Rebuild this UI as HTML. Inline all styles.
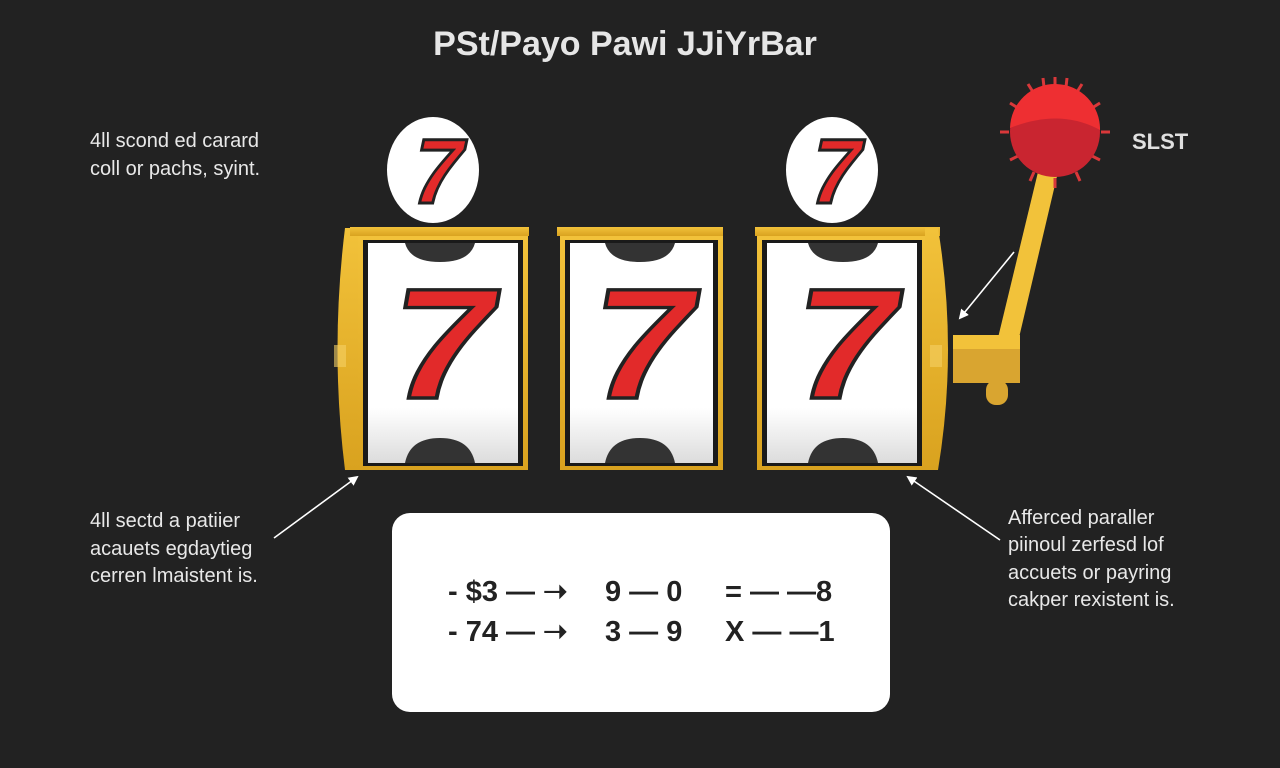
<!DOCTYPE html>
<html><head><meta charset="utf-8"><style>
html,body{margin:0;padding:0;background:#222222;}
svg{display:block}
text{font-family:"Liberation Sans",sans-serif;}
</style></head><body>
<svg width="1280" height="768" viewBox="0 0 1280 768" xmlns="http://www.w3.org/2000/svg">
<defs>
<linearGradient id="g" x1="0" y1="0" x2="0" y2="1"><stop offset="0" stop-color="#f2c23a"/><stop offset="1" stop-color="#d9a21f"/></linearGradient>
<linearGradient id="w" x1="0" y1="0" x2="0" y2="1"><stop offset="0" stop-color="#ffffff"/><stop offset="0.75" stop-color="#ffffff"/><stop offset="1" stop-color="#dcdcdc"/></linearGradient>
<marker id="ah" markerWidth="10" markerHeight="10" refX="8" refY="5" orient="auto" markerUnits="userSpaceOnUse"><path d="M0,0 L10,5 L0,10 z" fill="#fff"/></marker>
</defs>
<rect width="1280" height="768" fill="#222222"/>
<text x="625" y="55" text-anchor="middle" font-size="34" font-weight="bold" fill="#e6e6e6">PSt/Payo Pawi JJiYrBar</text>

<g font-size="20" fill="#e8e8e8">
<text x="90" y="147">4ll scond ed carard</text>
<text x="90" y="175">coll or pachs, syint.</text>
<text x="90" y="527">4ll sectd a patiier</text>
<text x="90" y="555">acauets egdaytieg</text>
<text x="90" y="582">cerren lmaistent is.</text>
<text x="1008" y="524">Afferced paraller</text>
<text x="1008" y="551">piinoul zerfesd lof</text>
<text x="1008" y="579">accuets or payring</text>
<text x="1008" y="606">cakper rexistent is.</text>
</g>
<text x="1132" y="149" font-size="22" font-weight="bold" fill="#e0e0e0">SLST</text>

<ellipse cx="433" cy="170" rx="46" ry="53" fill="#fff"/>
<ellipse cx="832" cy="170" rx="46" ry="53" fill="#fff"/>
<g font-weight="bold" font-size="92" fill="#e22a2a" stroke="#222" stroke-width="3" text-anchor="middle">
<text transform="translate(432,203) skewX(-12)">7</text>
<text transform="translate(830,203) skewX(-12)">7</text>
</g>

<path d="M345,228 L360,228 L358,470 L345,470 Q330,350 345,228 z" fill="url(#g)"/>
<rect x="350" y="227" width="179" height="9" fill="url(#g)"/>
<rect x="358" y="236" width="170" height="234" fill="url(#g)"/>
<rect x="363" y="240" width="160" height="226" fill="#1a1a1a"/>
<rect x="368" y="243" width="150" height="220" fill="url(#w)"/>
<rect x="557" y="227" width="166" height="9" fill="url(#g)"/>
<rect x="560" y="236" width="163" height="234" fill="url(#g)"/>
<rect x="565" y="240" width="153" height="226" fill="#1a1a1a"/>
<rect x="570" y="243" width="143" height="220" fill="url(#w)"/>
<rect x="755" y="227" width="185" height="9" fill="url(#g)"/>
<rect x="757" y="236" width="170" height="234" fill="url(#g)"/>
<rect x="762" y="240" width="160" height="226" fill="#1a1a1a"/>
<rect x="767" y="243" width="150" height="220" fill="url(#w)"/>
<path d="M925,228 L938,228 Q958,350 938,470 L925,470 z" fill="url(#g)"/>
<rect x="930" y="345" width="12" height="22" fill="#f5d064" opacity="0.6"/>
<rect x="334" y="345" width="12" height="22" fill="#f5d064" opacity="0.6"/>

<g fill="#333">
<path d="M405,243 L475,243 Q470,262 440,262 Q410,262 405,243 z"/>
<path d="M405,463 L475,463 Q470,438 440,438 Q410,438 405,463 z"/>
<path d="M605,243 L675,243 Q670,262 640,262 Q610,262 605,243 z"/>
<path d="M605,463 L675,463 Q670,438 640,438 Q610,438 605,463 z"/>
<path d="M808,243 L878,243 Q873,262 843,262 Q813,262 808,243 z"/>
<path d="M808,463 L878,463 Q873,438 843,438 Q813,438 808,463 z"/>
</g>
<g font-weight="bold" font-size="185" fill="#e22a2a" stroke="#222" stroke-width="4" text-anchor="middle">
<text transform="translate(435,398) skewX(-10) scale(1.05,0.85)">7</text>
<text transform="translate(635,398) skewX(-10) scale(1.05,0.85)">7</text>
<text transform="translate(838,398) skewX(-10) scale(1.05,0.85)">7</text>
</g>

<polygon points="1038,172 1058,172 1018,342 997,342" fill="#f2c23a"/>
<rect x="953" y="335" width="67" height="14" fill="#f2c23a"/>
<rect x="953" y="349" width="67" height="34" fill="#d9a530"/>
<rect x="986" y="380" width="22" height="25" rx="10" fill="#d9a530"/>
<g stroke="#d9383a" stroke-width="3">
<line x1="1055" y1="77" x2="1055" y2="86"/><line x1="1055" y1="178" x2="1055" y2="188"/>
<line x1="1000" y1="132" x2="1009" y2="132"/><line x1="1101" y1="132" x2="1110" y2="132"/>
<line x1="1028" y1="84" x2="1033" y2="92"/><line x1="1082" y1="84" x2="1077" y2="92"/>
<line x1="1010" y1="103" x2="1018" y2="108"/><line x1="1100" y1="103" x2="1092" y2="108"/>
<line x1="1010" y1="160" x2="1018" y2="156"/><line x1="1100" y1="160" x2="1092" y2="156"/>
<line x1="1030" y1="181" x2="1034" y2="172"/><line x1="1080" y1="181" x2="1076" y2="172"/>
<line x1="1043" y1="78" x2="1044" y2="87"/><line x1="1067" y1="78" x2="1066" y2="87"/>
</g>
<circle cx="1055" cy="132" r="45" fill="#c92530"/>
<path d="M1010,128 A45,45 0 0 1 1100,130 Q1060,108 1010,128 z" fill="#ee2f32"/>

<g stroke="#fff" stroke-width="1.6" fill="none" marker-end="url(#ah)">
<line x1="1014" y1="252" x2="960" y2="318"/>
<line x1="274" y1="538" x2="357" y2="477"/>
<line x1="1000" y1="540" x2="908" y2="477"/>
</g>

<rect x="392" y="513" width="498" height="199" rx="18" fill="#ffffff"/>
<g font-size="29" fill="#222" font-weight="bold">
<text x="448" y="601">- $3 — ➝</text>
<text x="605" y="601">9 — 0</text>
<text x="725" y="601">= — —8</text>
<text x="448" y="641">- 74 — ➝</text>
<text x="605" y="641">3 — 9</text>
<text x="725" y="641">X — —1</text>
</g>
</svg>
</body></html>
